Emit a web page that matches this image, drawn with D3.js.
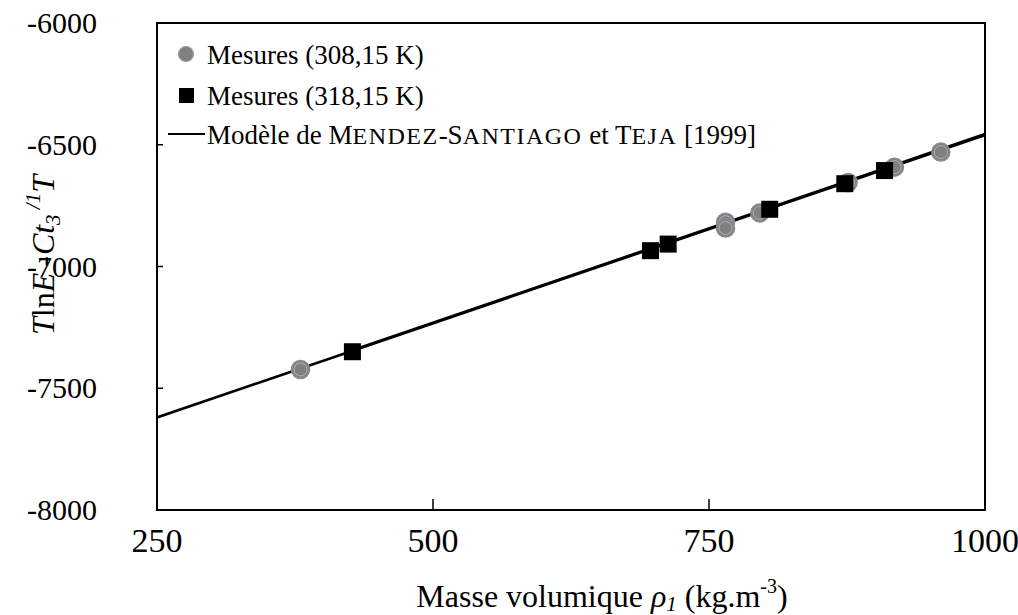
<!DOCTYPE html>
<html>
<head>
<meta charset="utf-8">
<script src="https://cdn.jsdelivr.net/npm/d3@7"></script>
<style>
  html, body { margin: 0; padding: 0; background: #fff; }
  svg { display: block; }
  text { font-family: "Liberation Serif", "Times New Roman", serif; fill: #000; }
</style>
</head>
<body>
<svg id="chart" width="1018" height="615"></svg>
<script>
// Density (kg/m3) and T·lnE − C·t3/T values, one array per temperature
const rho308 = [380, 765, 765, 796, 876, 918, 960];
const val308 = [-7423, -6818, -6842, -6780, -6655, -6592, -6530];
const rho318 = [427, 697, 713, 805, 873, 909];
const val318 = [-7350, -6935, -6908, -6765, -6660, -6606];

// Model of Mendez-Santiago & Teja, end points for each temperature
const modelRho308 = [250, 1000];
const modelVal308 = [-7620, -6460];
const modelRho318 = [427, 1000];
const modelVal318 = [-7344, -6456];

const xTicks = [250, 500, 750, 1000];
const yTicks = [-8000, -7500, -7000, -6500, -6000];

const svg = d3.select("#chart");
const plotL = 157, plotR = 985, plotT = 23, plotB = 510;

const x = d3.scaleLinear().domain([250, 1000]).range([plotL, plotR]);
const y = d3.scaleLinear().domain([-8000, -6000]).range([plotB, plotT]);

// frame
svg.append("rect")
  .attr("x", plotL).attr("y", plotT)
  .attr("width", plotR - plotL).attr("height", plotB - plotT)
  .attr("fill", "none").attr("stroke", "#000").attr("stroke-width", 2);

// inner tick marks
svg.selectAll(".xt").data(xTicks.filter(d => d > 250 && d < 1000)).enter()
  .append("line")
  .attr("x1", d => x(d)).attr("x2", d => x(d))
  .attr("y1", plotB).attr("y2", plotB - 11)
  .attr("stroke", "#000").attr("stroke-width", 1.5);
svg.selectAll(".yt").data(yTicks.filter(d => d > -8000 && d < -6000)).enter()
  .append("line")
  .attr("x1", plotL).attr("x2", plotL + 6)
  .attr("y1", d => y(d)).attr("y2", d => y(d))
  .attr("stroke", "#000").attr("stroke-width", 1.5);

// tick labels
svg.selectAll(".xl").data(xTicks).enter().append("text")
  .attr("x", d => x(d)).attr("y", 552)
  .attr("text-anchor", "middle").attr("font-size", 34)
  .text(d => d);
svg.selectAll(".yl").data(yTicks).enter().append("text")
  .attr("x", 97).attr("y", d => y(d) + 10)
  .attr("text-anchor", "end").attr("font-size", 30)
  .text(d => d);

// model lines
const line = d3.line().x(d => x(d[0])).y(d => y(d[1]));
svg.append("clipPath").attr("id", "plotclip")
  .append("rect").attr("x", plotL).attr("y", plotT)
  .attr("width", plotR - plotL).attr("height", plotB - plotT);
svg.append("path")
  .datum(d3.zip(modelRho308, modelVal308))
  .attr("d", line).attr("fill", "none")
  .attr("stroke", "#000").attr("stroke-width", 2.6)
  .attr("clip-path", "url(#plotclip)");
svg.append("path")
  .datum(d3.zip(modelRho318, modelVal318))
  .attr("d", line).attr("fill", "none")
  .attr("stroke", "#000").attr("stroke-width", 2.6)
  .attr("clip-path", "url(#plotclip)");

// measurements at 308.15 K: grey discs
const circ = svg.selectAll(".c308").data(d3.zip(rho308, val308)).enter().append("g")
  .attr("transform", d => `translate(${x(d[0])},${y(d[1])})`);
circ.append("circle").attr("r", 9)
  .attr("fill", "#7f7f7f").attr("stroke", "#8a8a96").attr("stroke-width", 1.5);
circ.append("circle").attr("r", 6.5)
  .attr("fill", "none").attr("stroke", "#bdbdbd").attr("stroke-width", 0.8);

// measurements at 318.15 K: black squares
svg.selectAll(".s318").data(d3.zip(rho318, val318)).enter().append("rect")
  .attr("x", d => x(d[0]) - 8.5).attr("y", d => y(d[1]) - 8.5)
  .attr("width", 17).attr("height", 17)
  .attr("fill", "#000");

// legend
const lg = svg.append("g");
lg.append("circle").attr("cx", 186).attr("cy", 54).attr("r", 7.5)
  .attr("fill", "#7f7f7f").attr("stroke", "#a0a0a0").attr("stroke-width", 1.2);
lg.append("text").attr("x", 207).attr("y", 64).attr("font-size", 27).text("Mesures (308,15 K)");
lg.append("rect").attr("x", 179).attr("y", 88).attr("width", 15).attr("height", 15).attr("fill", "#000");
lg.append("text").attr("x", 207).attr("y", 105).attr("font-size", 27).text("Mesures (318,15 K)");
lg.append("line").attr("x1", 168).attr("x2", 205).attr("y1", 134).attr("y2", 134)
  .attr("stroke", "#000").attr("stroke-width", 2);
const t3 = lg.append("text").attr("x", 207).attr("y", 144).attr("font-size", 27);
const sc = s => t3.append("tspan").attr("font-size", 24).attr("letter-spacing", 1.5).text(s);
t3.append("tspan").text("Modèle de M");
sc("ENDEZ");
t3.append("tspan").text("-S");
sc("ANTIAGO");
t3.append("tspan").text(" et T");
sc("EJA");
t3.append("tspan").text(" [1999]");

// x axis title
const xt = svg.append("text").attr("x", 602).attr("y", 607)
  .attr("text-anchor", "middle").attr("font-size", 32);
xt.append("tspan").text("Masse volumique ");
xt.append("tspan").attr("font-style", "italic").text("ρ");
xt.append("tspan").attr("font-style", "italic").attr("font-size", 21).attr("dy", 4).text("1");
xt.append("tspan").attr("dy", -4).text(" (kg.m");
xt.append("tspan").attr("font-size", 20).attr("dy", -14).text("-3");
xt.append("tspan").attr("dy", 14).text(")");

// y axis title
const yt = svg.append("text")
  .attr("transform", "translate(54,255) rotate(-90)")
  .attr("text-anchor", "middle").attr("font-size", 32);
yt.append("tspan").attr("font-style", "italic").text("T");
yt.append("tspan").text("ln");
yt.append("tspan").attr("font-style", "italic").text("E");
yt.append("tspan").attr("dx", 6).text("-");
yt.append("tspan").attr("dx", 1).attr("font-style", "italic").text("Ct");
yt.append("tspan").attr("font-style", "italic").attr("font-size", 21).attr("dy", 6).text("3");
yt.append("tspan").attr("font-style", "italic").attr("font-size", 21).attr("dy", -20).text(" /1");
yt.append("tspan").attr("font-style", "italic").attr("dy", 14).text("T");
</script>
</body>
</html>
